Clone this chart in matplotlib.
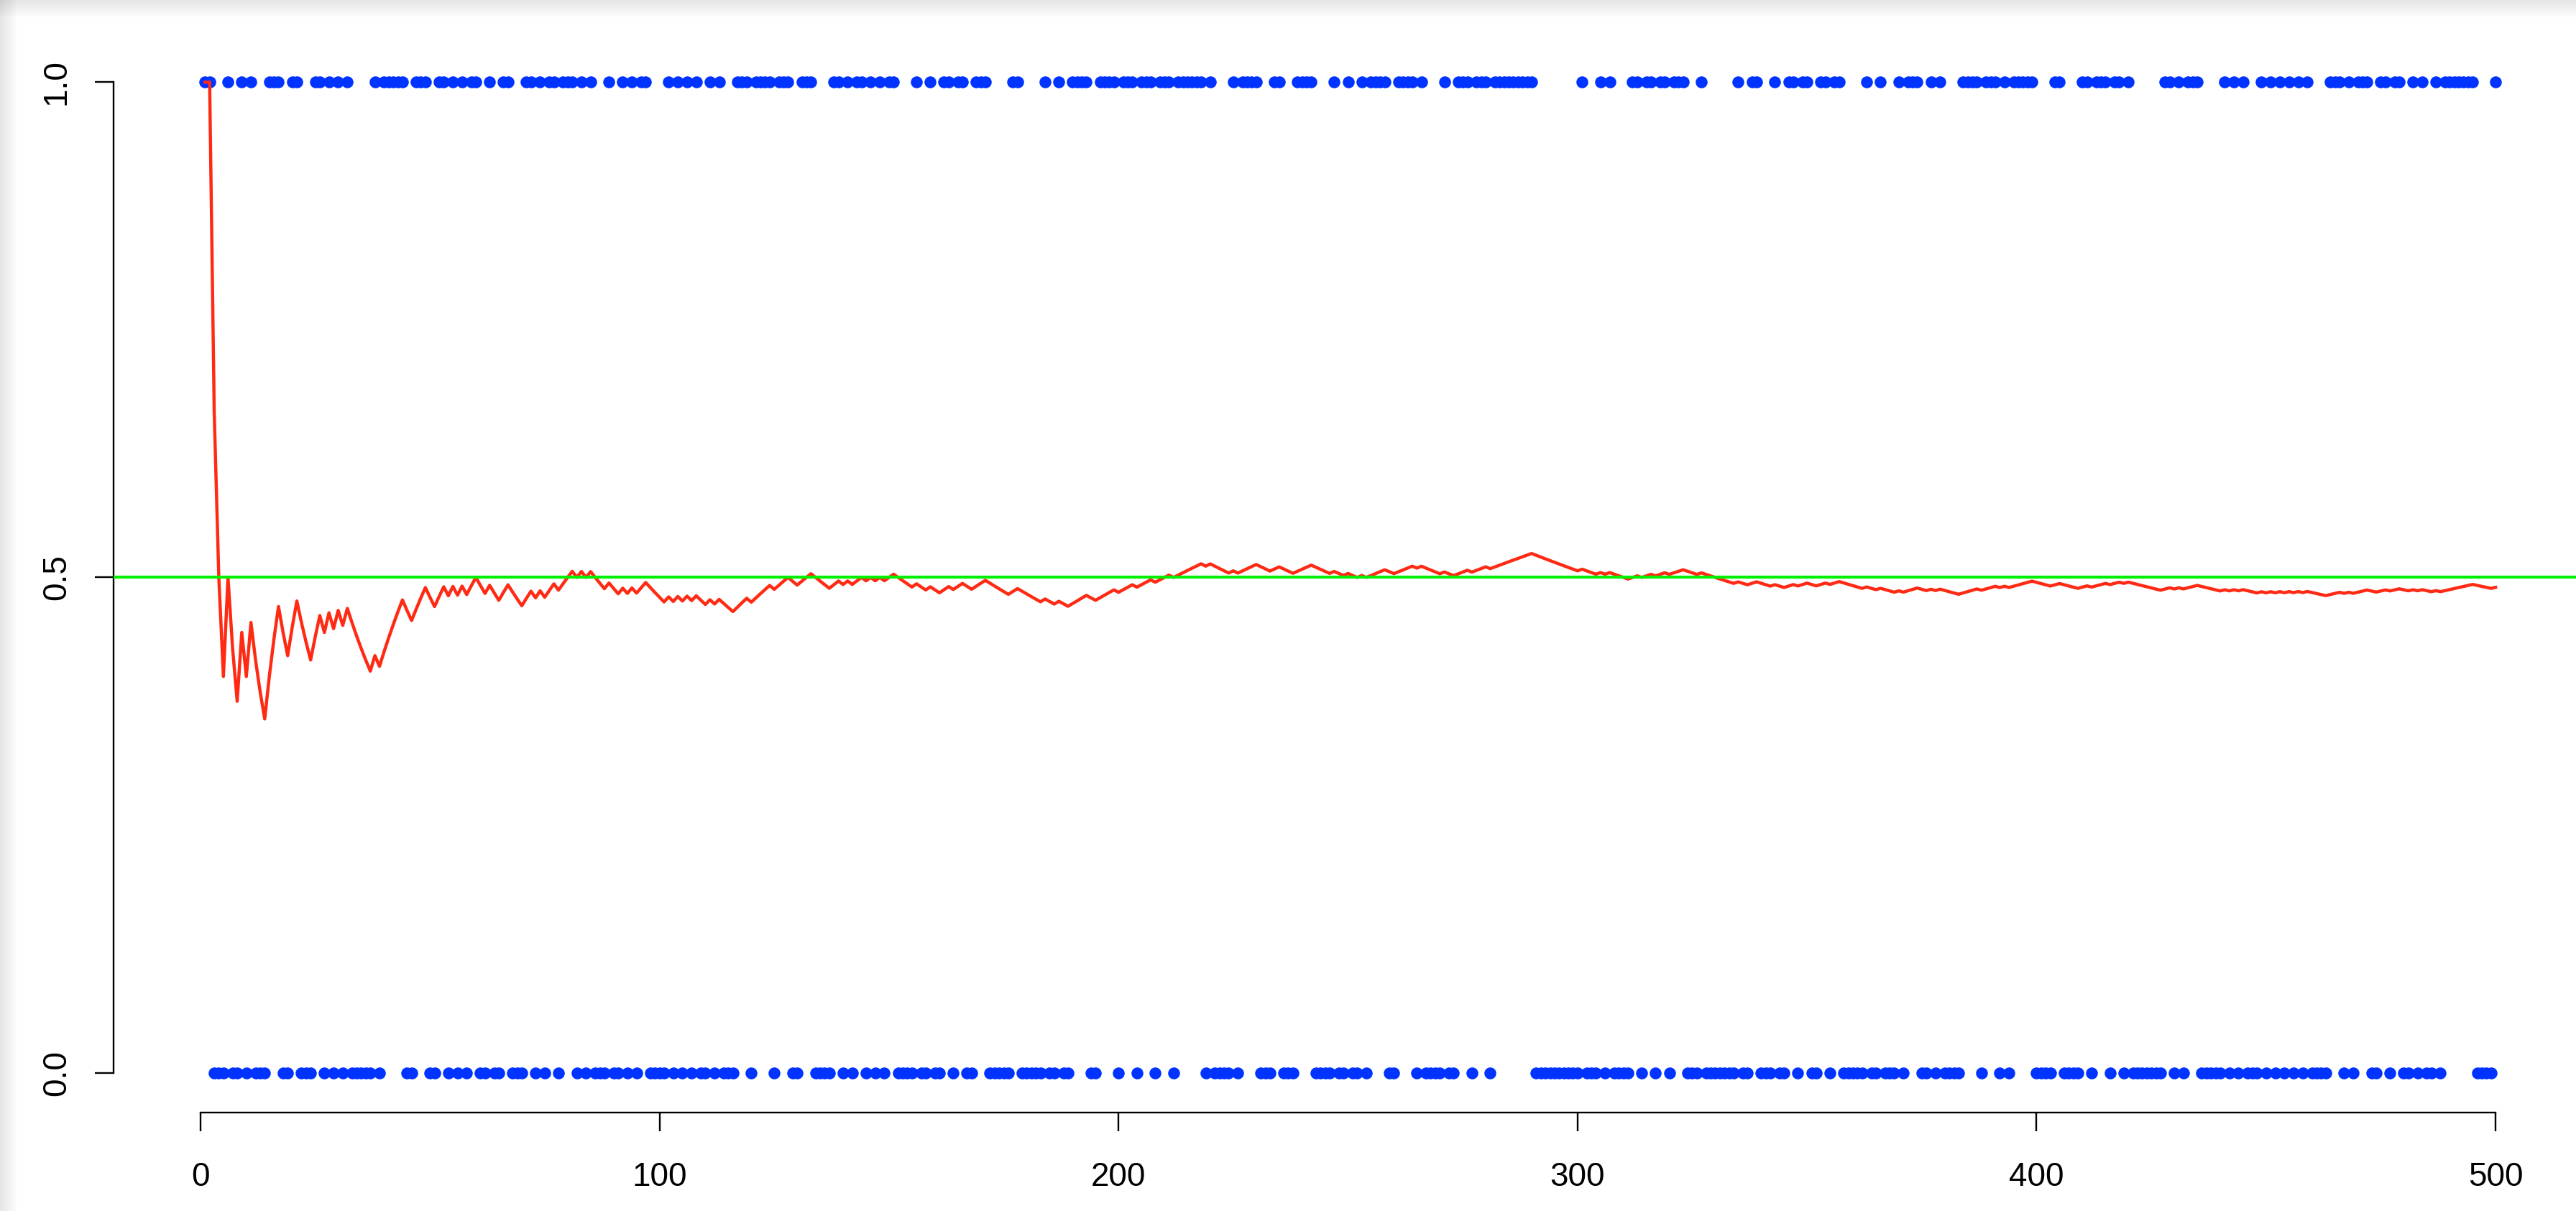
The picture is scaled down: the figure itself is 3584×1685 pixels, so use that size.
import numpy as np
import matplotlib
matplotlib.use("Agg")
import matplotlib.pyplot as plt
from matplotlib.patches import Rectangle

# ---- data ----
n_flips = 500
heads = [1, 2, 6, 9, 11, 15, 16, 17, 20, 21,
         25, 26, 28, 30, 32,
         38, 40, 41, 42, 43, 44,
         47, 48, 49,
         52, 53, 55, 57, 59, 60,
         63, 66, 67,
         71, 72, 74, 76, 77, 79, 80, 81, 83, 85,
         89, 92, 94, 96, 97,
         102, 104, 106, 108, 111, 113,
         117, 118, 119, 121, 122, 123, 124, 126, 127, 128,
         131, 132, 133,
         138, 139, 141, 143, 144, 146, 148, 150, 151,
         156, 159, 162, 163, 165, 166, 169, 170, 171,
         177, 178, 184, 187, 190, 191, 192, 193,
         196, 197, 198, 199, 201, 202, 203, 205, 206, 207, 209, 210, 211,
         213, 214, 215, 216, 217, 218, 220,
         225, 227, 228, 229, 230, 234, 235, 239, 240, 241, 242, 247, 250,
         253, 255, 256, 257, 258,
         261, 262, 263, 264, 266, 271,
         274, 275, 276, 278, 279, 280, 282, 283, 284, 285, 286, 287, 288, 289, 290,
         301, 305, 307,
         312, 313, 315, 316, 318, 319, 321, 322, 323,
         327, 335, 338, 339, 343, 346, 347, 349, 350, 353, 354, 356, 357,
         363, 366, 370, 372, 373, 374, 377, 379,
         384, 385, 386, 387, 389, 390, 391, 393, 395, 396, 397, 398, 399,
         404, 405,
         410, 411, 413, 414, 415, 417, 418, 420,
         428, 429, 431, 433, 434, 435,
         441, 443, 445,
         449, 451, 453, 455, 457, 459,
         464, 465, 466, 468, 470, 471, 472,
         475, 476, 478, 479, 482, 484,
         487, 489, 490, 491, 492, 493, 494, 495, 500]
x_ticks = [0, 100, 200, 300, 400, 500]
y_ticks = [0.0, 0.5, 1.0]
y_tick_labels = ["0.0", "0.5", "1.0"]
true_p = 0.5

# ---- derived series ----
flips = np.zeros(n_flips)
flips[np.array(heads) - 1] = 1
trials = np.arange(1, n_flips + 1)
running_mean = np.cumsum(flips) / trials

W, H = 3584, 1685
fig = plt.figure(figsize=(W / 100, H / 100), dpi=100)
plt.rcParams['font.family'] = ['Liberation Sans', 'DejaVu Sans']

# plot region (R style with 4% padding), right side cropped by the image edge
left_px, right_px = 157.8, 3599.6
top_px, bot_px = 59.2, 1547.7
ax = fig.add_axes([left_px / W, (H - bot_px) / H,
                   (right_px - left_px) / W, (bot_px - top_px) / H])
ax.set_xlim(1 - 0.04 * 499, 500 + 0.04 * 499)
ax.set_ylim(-0.04, 1.04)

blue = '#0033ff'
ax.plot(trials, flips, 'o', color=blue, ms=10.5, mew=1.4, mec=blue, zorder=2)
ax.plot(trials, running_mean, '-', color='#ff2a14', lw=3.2, zorder=3)
ax.axhline(true_p, color='#00f000', lw=3.0, zorder=4)

for s in ['top', 'right']:
    ax.spines[s].set_visible(False)
ax.spines['left'].set_bounds(0, 1)
ax.spines['bottom'].set_bounds(0, 500)
for s in ['left', 'bottom']:
    ax.spines[s].set_linewidth(1.7)
    ax.spines[s].set_color('black')

ax.set_xticks(x_ticks)
ax.set_xticklabels([str(t) for t in x_ticks])
ax.set_yticks(y_ticks)
ax.set_yticklabels(y_tick_labels, rotation=90, va='center')
ax.tick_params(axis='both', direction='out', length=19, width=1.7,
               labelsize=33, colors='black')
ax.tick_params(axis='x', pad=30)
ax.tick_params(axis='y', pad=22)

# window shadow along the top and left edges
for i in range(12):
    a = 0.10 * (1 - i / 12)
    fig.add_artist(Rectangle((0, 1 - (i + 1) / H * 2), 1, 2 / H,
                             transform=fig.transFigure, color='black',
                             alpha=a, lw=0))
    fig.add_artist(Rectangle((i * 2 / W, 0), 2 / W, 1,
                             transform=fig.transFigure, color='black',
                             alpha=a, lw=0))

fig.savefig('out.png', dpi=100)
